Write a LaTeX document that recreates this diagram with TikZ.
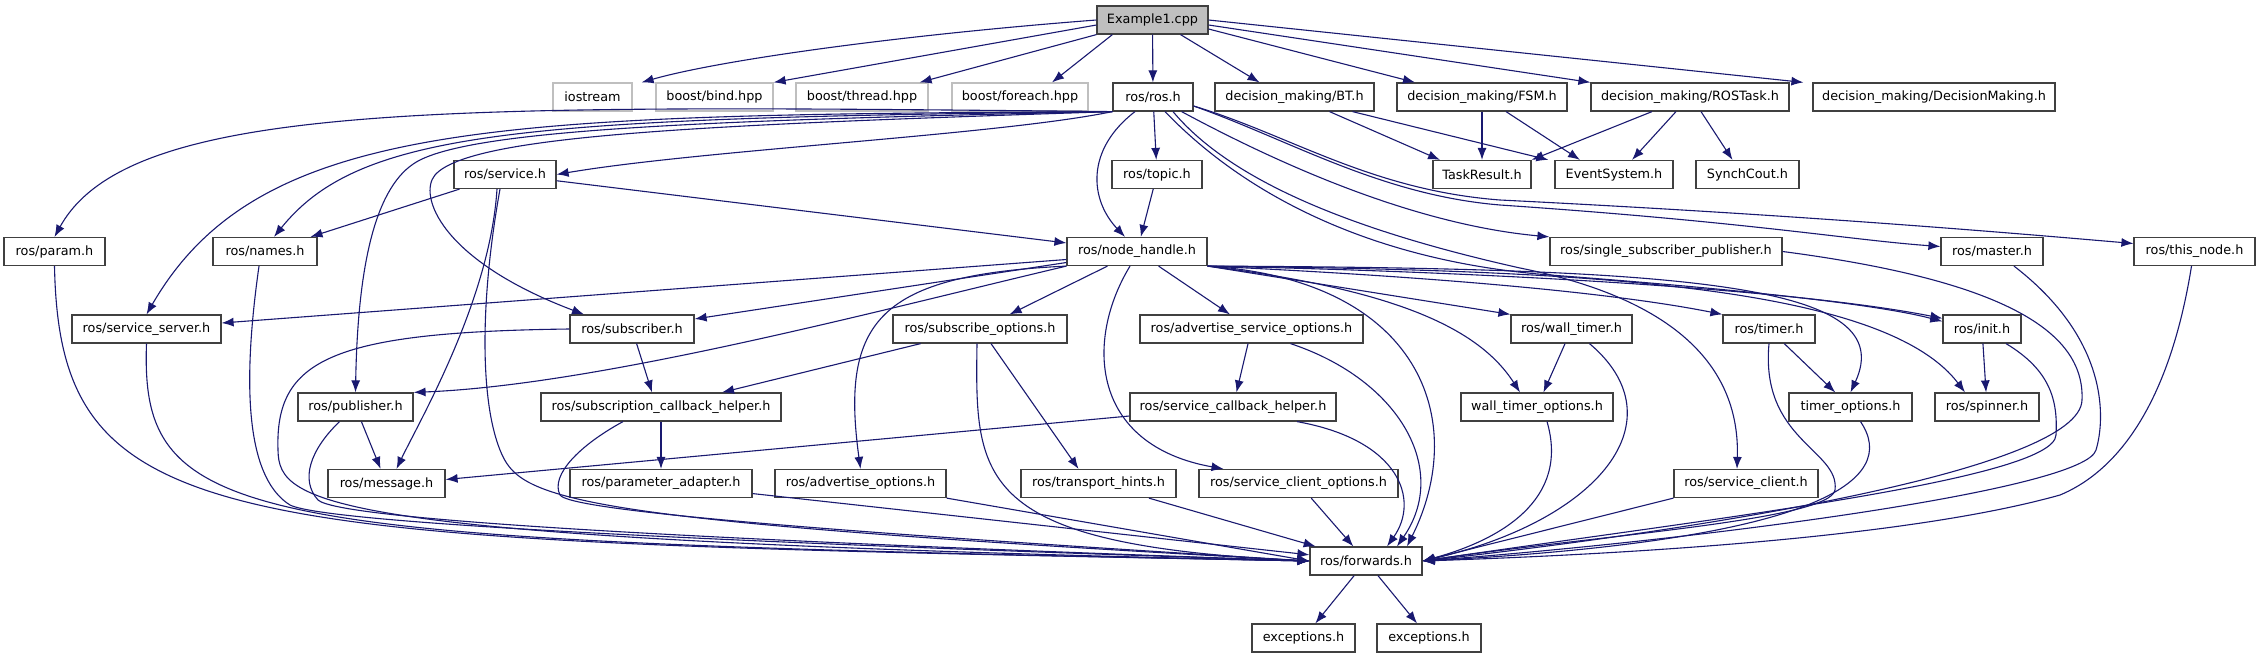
\documentclass[tikz,border=0pt]{standalone}
\usepackage{fontspec}
\setmainfont{DejaVu Sans}
\usetikzlibrary{arrows.meta}
\definecolor{edgeblue}{HTML}{191970}
\definecolor{boxline}{HTML}{404040}
\definecolor{rootfill}{HTML}{BFBFBF}
\definecolor{sysline}{HTML}{BFBFBF}
\begin{document}
\begin{tikzpicture}[x=1pt,y=-1pt,
  hdr/.style={draw=boxline,line width=1.2pt,fill=white,minimum height=28pt,inner sep=0pt,font=\fontsize{12.8}{15}\selectfont},
  sys/.style={hdr,draw=sysline},
  mainfile/.style={hdr,fill=rootfill},
  inc/.style={draw=edgeblue,line width=1.1pt,-{Latex[length=12pt,width=9pt]}}]
\useasboundingbox[fill=white] (0,0) rectangle (2260,659);
\node[mainfile,minimum width=111pt] (ex) at (1152.5,20) {Example1.cpp};
\node[sys,minimum width=79pt] (iostream) at (592.5,97) {iostream};
\node[sys,minimum width=117pt] (bind) at (714.5,97) {boost/bind.hpp};
\node[sys,minimum width=132pt] (thread) at (862,97) {boost/thread.hpp};
\node[sys,minimum width=136pt] (foreach) at (1020,97) {boost/foreach.hpp};
\node[hdr,minimum width=80pt] (ros) at (1153,97) {ros/ros.h};
\node[hdr,minimum width=159pt] (bt) at (1294.5,97) {decision\_making/BT.h};
\node[hdr,minimum width=170pt] (fsm) at (1482,97) {decision\_making/FSM.h};
\node[hdr,minimum width=198pt] (rostask) at (1690,97) {decision\_making/ROSTask.h};
\node[hdr,minimum width=242pt] (dm) at (1934,97) {decision\_making/DecisionMaking.h};
\node[hdr,minimum width=102pt] (service) at (505,174.5) {ros/service.h};
\node[hdr,minimum width=90pt] (topic) at (1157,174.5) {ros/topic.h};
\node[hdr,minimum width=98pt] (taskresult) at (1482,174.5) {TaskResult.h};
\node[hdr,minimum width=118pt] (eventsys) at (1614,174.5) {EventSystem.h};
\node[hdr,minimum width=103pt] (synchcout) at (1747.5,174.5) {SynchCout.h};
\node[hdr,minimum width=101pt] (param) at (54.5,251.5) {ros/param.h};
\node[hdr,minimum width=104pt] (names) at (265,251.5) {ros/names.h};
\node[hdr,minimum width=140pt] (nodehandle) at (1137,251.5) {ros/node\_handle.h};
\node[hdr,minimum width=232pt] (ssp) at (1666,251.5) {ros/single\_subscriber\_publisher.h};
\node[hdr,minimum width=102pt] (master) at (1992,251.5) {ros/master.h};
\node[hdr,minimum width=121pt] (thisnode) at (2194.5,251.5) {ros/this\_node.h};
\node[hdr,minimum width=149pt] (servserver) at (146.5,329) {ros/service\_server.h};
\node[hdr,minimum width=124pt] (subscriber) at (632,329) {ros/subscriber.h};
\node[hdr,minimum width=174pt] (subopts) at (980,329) {ros/subscribe\_options.h};
\node[hdr,minimum width=223pt] (advsrvopts) at (1251.5,329) {ros/advertise\_service\_options.h};
\node[hdr,minimum width=121pt] (walltimer) at (1571.5,329) {ros/wall\_timer.h};
\node[hdr,minimum width=92pt] (timer) at (1769,329) {ros/timer.h};
\node[hdr,minimum width=78pt] (init) at (1982,329) {ros/init.h};
\node[hdr,minimum width=115pt] (publisher) at (355.5,407) {ros/publisher.h};
\node[hdr,minimum width=240pt] (subcbh) at (661,407) {ros/subscription\_callback\_helper.h};
\node[hdr,minimum width=206pt] (srvcbh) at (1233,407) {ros/service\_callback\_helper.h};
\node[hdr,minimum width=152pt] (walltimeropts) at (1537,407) {wall\_timer\_options.h};
\node[hdr,minimum width=123pt] (timeropts) at (1850.5,407) {timer\_options.h};
\node[hdr,minimum width=104pt] (spinner) at (1987,407) {ros/spinner.h};
\node[hdr,minimum width=117pt] (message) at (386.5,483.5) {ros/message.h};
\node[hdr,minimum width=182pt] (paramadapter) at (661,483.5) {ros/parameter\_adapter.h};
\node[hdr,minimum width=171pt] (advopts) at (860.5,483.5) {ros/advertise\_options.h};
\node[hdr,minimum width=155pt] (transport) at (1098.5,483.5) {ros/transport\_hints.h};
\node[hdr,minimum width=199pt] (srvclientopts) at (1298.5,483.5) {ros/service\_client\_options.h};
\node[hdr,minimum width=144pt] (srvclient) at (1746,483.5) {ros/service\_client.h};
\node[hdr,minimum width=112pt] (forwards) at (1366,561) {ros/forwards.h};
\node[hdr,minimum width=103pt] (exca) at (1303.5,638) {exceptions.h};
\node[hdr,minimum width=104pt] (excb) at (1429,638) {exceptions.h};
\draw[inc] (ex.west) .. controls (900,35) and (720,60) .. ([xshift=9pt]iostream.north east);
\draw[inc] ([yshift=-5pt]ex.west) -- (bind.north east);
\draw[inc] (ex.south west) -- ([xshift=-9pt]thread.north east);
\draw[inc] ([xshift=16pt]ex.south west) -- ([xshift=32pt]foreach.north);
\draw[inc] (ex) -- (ros);
\draw[inc] ([xshift=28pt]ex.south) -- ([xshift=-35pt]bt.north);
\draw[inc] ([yshift=-9pt]ex.east) -- ([xshift=-67pt]fsm.north);
\draw[inc] ([yshift=-5pt]ex.east) -- (rostask.north west);
\draw[inc] (ex.east) -- ([xshift=-9pt]dm.north west);
\draw[inc] ([xshift=35pt]bt.south) -- ([xshift=-42pt]taskresult.north);
\draw[inc] ([xshift=58pt]bt.south) -- ([xshift=-6pt]eventsys.north west);
\draw[inc] (fsm) -- (taskresult);
\draw[inc] ([xshift=24pt]fsm.south) -- ([xshift=-34pt]eventsys.north);
\draw[inc] ([xshift=-38pt]rostask.south) -- (taskresult.north east);
\draw[inc] ([xshift=-14pt]rostask.south) -- ([xshift=18pt]eventsys.north);
\draw[inc] ([xshift=11pt]rostask.south) -- ([xshift=-15pt]synchcout.north);
\draw[inc] (ros.south west) .. controls (450,105) and (130,100) .. (param.north);
\draw[inc] (ros.south west) .. controls (500,115) and (260,118) .. (servserver.north);
\draw[inc] (ros.south west) .. controls (520,118) and (360,130) .. ([xshift=9pt]names.north);
\draw[inc] (ros.south west) .. controls (700,120) and (480,130) .. (420,160) .. controls (380,180) and (358,250) .. (publisher.north);
\draw[inc] (ros.south west) .. controls (700,125) and (470,135) .. (435,175) .. controls (418,195) and (440,260) .. ([xshift=-48pt]subscriber.north);
\draw[inc] (ros.south west) .. controls (1000,135) and (700,150) .. (service.east);
\draw[inc] ([xshift=-18pt]ros.south) .. controls (1085,150) and (1090,200) .. ([xshift=-12pt]nodehandle.north);
\draw[inc] (ros) -- (topic);
\draw[inc] (topic) -- (nodehandle);
\draw[inc] ([xshift=-12pt]ros.south east) .. controls (1290,170) and (1420,225) .. (ssp.north west);
\draw[inc] ([yshift=-9pt]ros.east) .. controls (1290,140) and (1380,195) .. (1500,205) .. controls (1750,222) and (1850,240) .. ([yshift=5pt]master.west);
\draw[inc] ([yshift=-9pt]ros.east) .. controls (1290,135) and (1370,190) .. (1500,200) .. controls (1800,215) and (2000,232) .. ([yshift=8pt]thisnode.west);
\draw[inc] ([xshift=12pt]ros.south) .. controls (1250,200) and (1380,262) .. (1550,275) .. controls (1750,290) and (1880,305) .. ([yshift=-7pt]init.north west);
\draw[inc] ([xshift=20pt]ros.south) .. controls (1230,180) and (1350,230) .. (1520,268) .. controls (1680,300) and (1740,370) .. ([xshift=-9pt]srvclient.north);
\draw[inc] (service) -- (names);
\draw[inc] (service) -- (nodehandle);
\draw[inc] ([xshift=-8pt]service.south) .. controls (490,300) and (420,420) .. ([xshift=10pt]message.north);
\draw[inc] ([xshift=-5pt]service.south) .. controls (480,300) and (480,400) .. (500,450) .. controls (520,500) and (560,520) .. (forwards.west);
\draw[inc] ([yshift=-8pt]nodehandle.west) -- ([yshift=6pt]servserver.east);
\draw[inc] ([yshift=-11pt]nodehandle.west) -- ([yshift=10pt]subscriber.east);
\draw[inc] (nodehandle.south west) .. controls (880,310) and (600,385) .. (publisher.north east);
\draw[inc] (nodehandle) -- (subopts);
\draw[inc] (nodehandle) -- (advsrvopts);
\draw[inc] (nodehandle.south west) .. controls (880,275) and (840,320) .. (advopts.north);
\draw[inc] ([xshift=-7pt]nodehandle.south) .. controls (1085,340) and (1090,445) .. ([xshift=-75pt]srvclientopts.north);
\draw[inc] (nodehandle.south east) .. controls (1420,280) and (1470,420) .. ([xshift=41pt]forwards.north);
\draw[inc] (nodehandle.south east) -- (walltimer.north west);
\draw[inc] (nodehandle.south east) .. controls (1400,290) and (1480,330) .. ([xshift=-17pt]walltimeropts.north);
\draw[inc] (nodehandle.south east) .. controls (1400,275) and (1600,290) .. (timer.north west);
\draw[inc] (nodehandle.south east) .. controls (1700,268) and (1900,285) .. (timeropts.north);
\draw[inc] (nodehandle.south east) .. controls (1500,272) and (1800,290) .. ([yshift=-4pt]init.north west);
\draw[inc] (nodehandle.south east) .. controls (1550,270) and (1880,280) .. ([xshift=-22pt]spinner.north);
\draw[inc] (publisher) -- (message);
\draw[inc] ([yshift=-9pt]srvcbh.west) -- ([yshift=4pt]message.east);
\draw[inc] (subscriber) -- ([xshift=-9pt]subcbh.north);
\draw[inc] (subopts) -- ([xshift=61pt]subcbh.north);
\draw[inc] ([xshift=11pt]subopts.south) -- ([xshift=-20pt]transport.north);
\draw[inc] (subcbh) -- (paramadapter);
\draw[inc] (advsrvopts) -- (srvcbh);
\draw[inc] (walltimer) -- (walltimeropts);
\draw[inc] (timer) -- (timeropts);
\draw[inc] (init) -- (spinner);
\draw[inc] (param.south) .. controls (60,540) and (220,540) .. (forwards.west);
\draw[inc] (servserver.south) .. controls (140,530) and (240,540) .. (forwards.west);
\draw[inc] ([xshift=-6pt]names.south) .. controls (240,400) and (250,480) .. (290,505) .. controls (330,525) and (800,545) .. (forwards.west);
\draw[inc] (subscriber.west) .. controls (330,332) and (275,360) .. (278,450) .. controls (279,505) and (320,540) .. (forwards.west);
\draw[inc] ([xshift=-16pt]publisher.south) .. controls (310,450) and (300,480) .. (318,500) .. controls (340,520) and (700,540) .. (forwards.west);
\draw[inc] ([xshift=-38pt]subcbh.south) .. controls (580,445) and (550,475) .. (560,495) .. controls (570,510) and (800,530) .. (forwards.west);
\draw[inc] (paramadapter) -- (forwards);
\draw[inc] (advopts.south east) -- (forwards.west);
\draw[inc] ([xshift=-3pt]subopts.south) .. controls (975,480) and (975,545) .. (forwards.west);
\draw[inc] (transport) -- (forwards);
\draw[inc] (srvclientopts) -- (forwards);
\draw[inc] ([xshift=39pt]advsrvopts.south) .. controls (1400,380) and (1450,470) .. ([xshift=31pt]forwards.north);
\draw[inc] ([xshift=64pt]srvcbh.south) .. controls (1400,440) and (1420,500) .. ([xshift=21pt]forwards.north);
\draw[inc] ([xshift=10pt]walltimeropts.south) .. controls (1570,500) and (1500,540) .. (forwards.east);
\draw[inc] ([xshift=18pt]walltimer.south) .. controls (1680,420) and (1600,520) .. (forwards.east);
\draw[inc] (srvclient.south west) -- (forwards.east);
\draw[inc] (timer.south) .. controls (1760,440) and (1840,450) .. (1835,490) .. controls (1830,520) and (1600,535) .. (forwards.east);
\draw[inc] ([xshift=10pt]timeropts.south) .. controls (1900,480) and (1820,540) .. (forwards.east);
\draw[inc] ([xshift=24pt]init.south) .. controls (2050,370) and (2058,400) .. (2056,435) .. controls (2054,480) and (1700,520) .. (forwards.east);
\draw[inc] (ssp.east) .. controls (2000,280) and (2085,330) .. (2082,400) .. controls (2080,470) and (1700,530) .. (forwards.east);
\draw[inc] ([xshift=22pt]master.south) .. controls (2110,340) and (2105,420) .. (2096,450) .. controls (2085,490) and (1700,540) .. (forwards.east);
\draw[inc] ([xshift=-3pt]thisnode.south) .. controls (2170,400) and (2120,470) .. (2060,495) .. controls (1900,540) and (1600,555) .. (forwards.east);
\draw[inc] (forwards) -- (exca);
\draw[inc] (forwards) -- (excb);
\end{tikzpicture}
\end{document}
